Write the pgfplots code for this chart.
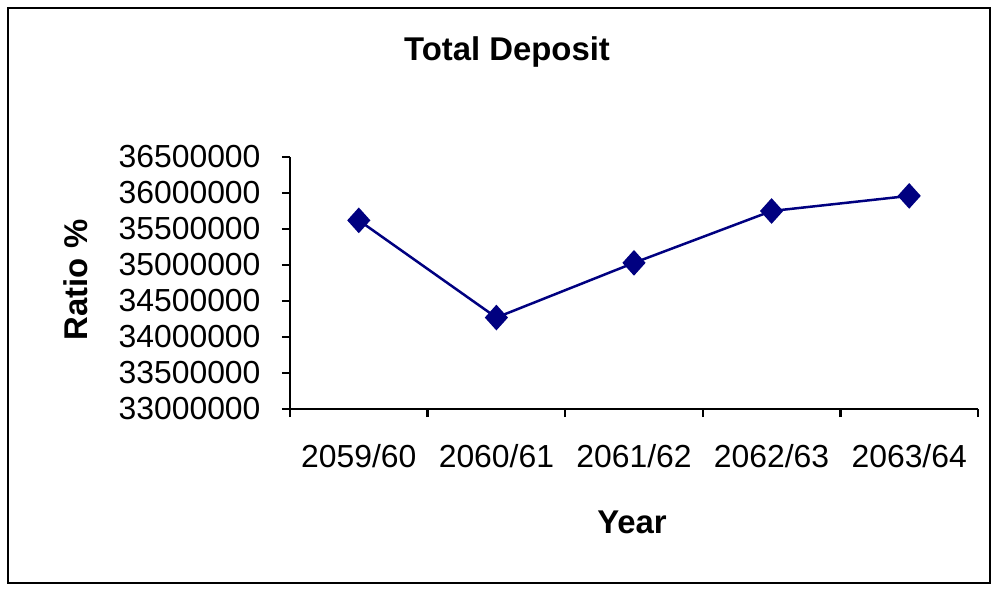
\documentclass[border=0pt]{standalone}
\usepackage{pgfplots}
\pgfplotsset{compat=1.18}
\usepackage{fontspec}
\setmainfont{Liberation Sans}
\definecolor{navy}{RGB}{0,0,128}
\begin{document}
\begin{tikzpicture}
\begin{axis}[
  scale only axis, width=688bp, height=252bp,
  xmin=-0.5, xmax=4.5, ymin=33000000, ymax=36500000,
  axis x line*=bottom, axis y line*=left,
  axis line style={line width=2bp, -},
  xtick={0,1,2,3,4},
  xticklabels={2059/60,2060/61,2061/62,2062/63,2063/64},
  minor xtick={-0.5,0.5,1.5,2.5,3.5,4.5},
  ytick={33000000,33500000,34000000,34500000,35000000,35500000,36000000,36500000},
  yticklabels={33000000,33500000,34000000,34500000,35000000,35500000,36000000,36500000},
  tick align=outside, major tick length=8bp, minor tick length=8bp,
  x tick style={line width=2bp, black},
  major x tick style={draw=none},
  minor x tick style={line width=2.2bp, black},
  y tick style={line width=2.2bp, black},
  scaled y ticks=false,
  tick label style={font=\fontsize{32}{36}\selectfont},
  yticklabel style={xshift=-18bp},
  xticklabel style={yshift=-24bp},
  clip=false,
]
\addplot[color=navy, line width=2.5bp, mark=diamond*, mark size=11bp, mark options={solid, fill=navy, xscale=1.2}]
  coordinates {(0,35620000) (1,34270000) (2,35030000) (3,35750000) (4,35960000)};
\coordinate (O) at (rel axis cs:0,0);
\end{axis}
\draw[line width=1.5bp, shift={(O)}] (-282bp,-174bp) rectangle (700bp,401bp);
\path[shift={(O)}] (217bp,357bp) node[font=\bfseries\fontsize{33}{38}\selectfont] {Total Deposit};
\path[shift={(O)}] (342bp,-113bp) node[font=\bfseries\fontsize{33}{38}\selectfont] {Year};
\path[shift={(O)}] (-214bp,129bp) node[rotate=90, font=\bfseries\fontsize{33}{38}\selectfont] {Ratio \%};
\pgfresetboundingbox
\path[shift={(O)}] (-290bp,-181bp) rectangle (704bp,409bp);
\end{tikzpicture}
\end{document}
